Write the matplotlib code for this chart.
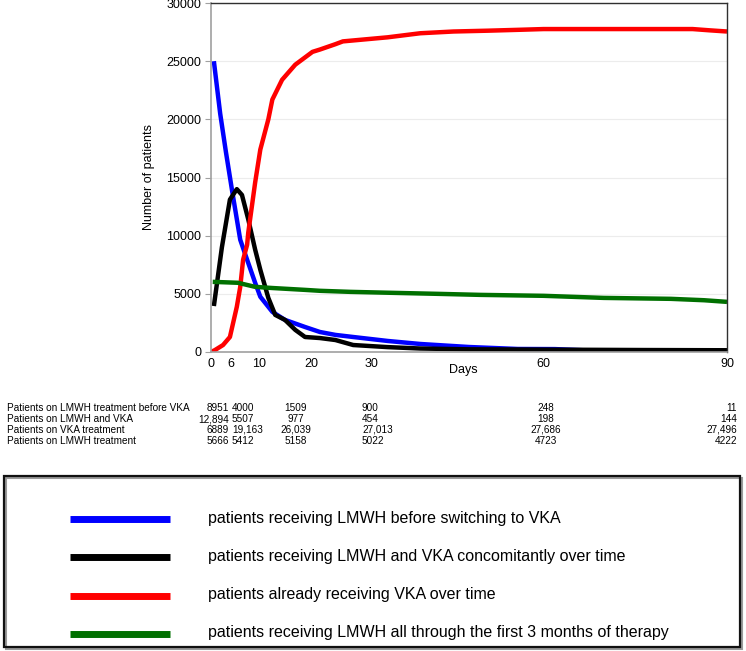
import matplotlib
matplotlib.use("Agg")
import matplotlib.pyplot as plt
from matplotlib.patches import Rectangle
from matplotlib.lines import Line2D

plt.rcParams["font.family"] = ["Liberation Sans", "DejaVu Sans"]

# ---- curve data (x in axis days, y in patients) ----
blue_x = [0.5, 1.6, 2.6, 3.7, 5.1, 5.9, 7.7, 8.6, 10.7, 12.9, 16.4, 19, 21.7, 24.8,
          30.8, 36.5, 45, 53.5, 60, 65, 75, 85, 90]
blue_y = [25000, 20500, 17200, 13800, 9650, 8500, 5950, 4750, 3450, 2760, 2150, 1720,
          1470, 1290, 950, 690, 430, 260, 250, 150, 120, 100, 60]

black_x = [0.5, 1.9, 3.3, 4.5, 5.4, 6.5, 7.7, 8.6, 10.0, 11.2, 12.9, 14.7, 16.4, 19,
           21.7, 24.8, 30.8, 36.5, 45, 60, 75, 90]
black_y = [3950, 9000, 13100, 14000, 13500, 11400, 8800, 7070, 4650, 3190, 2760, 1900,
           1290, 1200, 1030, 600, 420, 300, 230, 200, 170, 150]

red_x = [0.0, 0.7, 2.1, 3.3, 4.5, 5.1, 5.6, 6.3, 6.5, 7.7, 8.6, 10.0, 10.7, 12.4,
         14.7, 17.7, 19, 21.7, 23, 30.8, 36.5, 42.3, 48.3, 54, 58, 70, 84, 87, 90]
red_y = [0, 170, 600, 1290, 3880, 5600, 7930, 9220, 10260, 14570, 17400, 20000, 21700,
         23400, 24700, 25800, 26000, 26460, 26700, 27050, 27400, 27550, 27620, 27700,
         27760, 27760, 27760, 27650, 27550]

green_x = [0.3, 4.7, 7.7, 10.7, 16.4, 19, 24.3, 31.3, 39.5, 47, 58, 68.5, 80.2, 86, 90]
green_y = [6030, 5950, 5600, 5500, 5340, 5260, 5170, 5090, 5000, 4910, 4830, 4650,
           4570, 4450, 4310]

# x tick labels sit at these positions on the axis in the original
xtick_pos = [0, 3.5, 8.4, 17.5, 28, 58, 90]
xtick_lab = ["0", "6", "10", "20", "30", "60", "90"]
yticks = [0, 5000, 10000, 15000, 20000, 25000, 30000]

# ---- table under the chart ----
row_labels = ["Patients on LMWH treatment before VKA",
              "Patients on LMWH and VKA",
              "Patients on VKA treatment",
              "Patients on LMWH treatment"]
table = [["8951", "4000", "1509", "900", "248", "11"],
         ["12,894", "5507", "977", "454", "198", "144"],
         ["6889", "19,163", "26,039", "27,013", "27,686", "27,496"],
         ["5666", "5412", "5158", "5022", "4723", "4222"]]

legend_labels = ["patients receiving LMWH before switching to VKA",
                 "patients receiving LMWH and VKA concomitantly over time",
                 "patients already receiving VKA over time",
                 "patients receiving LMWH all through the first 3 months of therapy"]
colors = ["#0000ff", "#000000", "#ff0000", "#007000"]

W, H = 746, 651
fig = plt.figure(figsize=(W / 100, H / 100), dpi=100)


def fx(px):
    return px / W


def fy(py):
    return 1 - py / H


ax = fig.add_axes([fx(211), fy(352), fx(727) - fx(211), fy(3) - fy(352)])
series = [(blue_x, blue_y), (black_x, black_y), (red_x, red_y), (green_x, green_y)]
for (xs, ys), c in zip(series, colors):
    ax.plot(xs, ys, color=c, lw=3.2, solid_joinstyle="round", solid_capstyle="butt")

ax.set_xlim(0, 90)
ax.set_ylim(0, 30000)
ax.set_yticks(yticks)
ax.set_yticklabels([str(v) for v in yticks], fontsize=9)
ax.set_xticks(xtick_pos)
ax.set_xticklabels(xtick_lab, fontsize=9)
ax.tick_params(axis="x", length=0, pad=4)
ax.tick_params(axis="y", length=4, color="#a0a0a0", pad=3)
ax.grid(axis="y", color="#ececec", lw=0.8)
ax.set_axisbelow(True)
for s in ["left", "bottom"]:
    ax.spines[s].set_color("#a0a0a0")
    ax.spines[s].set_linewidth(1.2)
for s in ["top", "right"]:
    ax.spines[s].set_color("#303030")
    ax.spines[s].set_linewidth(1.0)
ax.set_ylabel("Number of patients", fontsize=9, labelpad=8)
fig.text(fx(463), fy(370), "Days", fontsize=9, ha="center", va="center")

# table text
narrow = ["Liberation Sans Narrow", "Liberation Sans", "DejaVu Sans"]
row_y = [408, 419, 430, 441]
col_x = [229, 232, 296, 362, 546, 737]
col_ha = ["right", "left", "center", "left", "center", "right"]
for r, lab in enumerate(row_labels):
    fig.text(fx(7), fy(row_y[r]), lab, fontsize=7.2, family=narrow, va="center")
    for c, val in enumerate(table[r]):
        fig.text(fx(col_x[c]), fy(row_y[r]), val, fontsize=7.2, family=narrow,
                 va="center", ha=col_ha[c])

# legend box
fig.patches.append(Rectangle((fx(6), fy(649)), fx(742) - fx(6), fy(478) - fy(649),
                             transform=fig.transFigure, fill=False,
                             edgecolor="#9a9a9a", lw=1.5))
fig.patches.append(Rectangle((fx(4), fy(647)), fx(740) - fx(4), fy(476) - fy(647),
                             transform=fig.transFigure, fill=False,
                             edgecolor="#111111", lw=1.6))
leg_y = [519, 557, 596, 634]
for i, lab in enumerate(legend_labels):
    fig.lines.append(Line2D([fx(70), fx(170)], [fy(leg_y[i]), fy(leg_y[i])],
                            transform=fig.transFigure, color=colors[i], lw=5,
                            solid_capstyle="butt"))
    fig.text(fx(208), fy(leg_y[i] - 1), lab, fontsize=11.5, family=narrow, va="center")

fig.savefig("out.png", dpi=100)
